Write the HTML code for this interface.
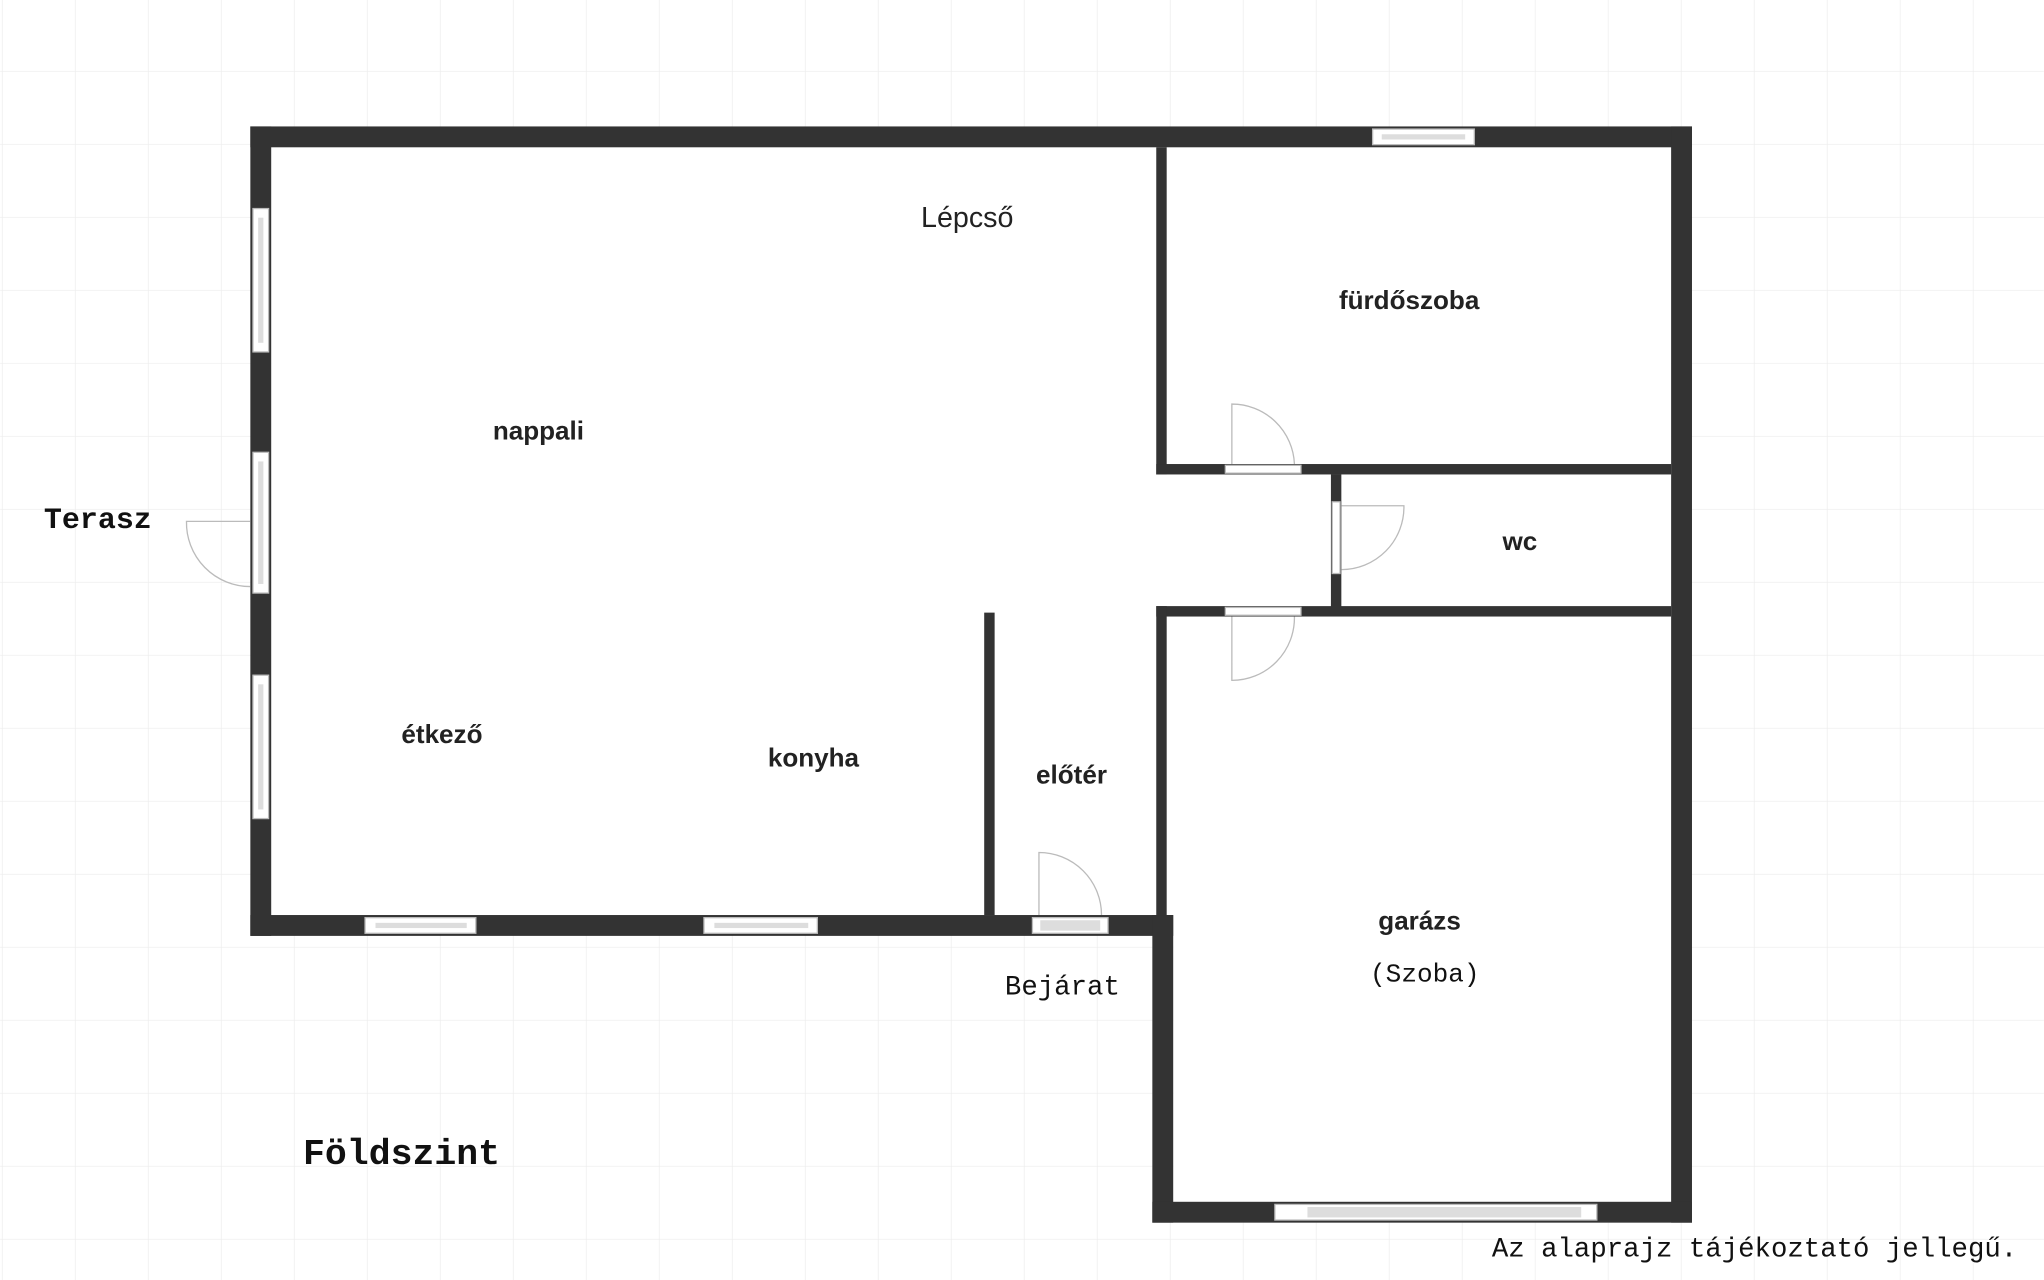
<!DOCTYPE html>
<html><head><meta charset="utf-8">
<style>
html,body{margin:0;padding:0;background:#fff;}
svg{display:block;}
.r{font-family:"Liberation Sans",sans-serif;font-size:20px;fill:#222;text-anchor:middle;}
.b{font-weight:bold;}
.m{font-family:"Liberation Mono",monospace;font-size:21px;fill:#111;text-anchor:middle;}
</style></head><body>
<svg width="2044" height="1280" viewBox="0 0 1568 982" xmlns="http://www.w3.org/2000/svg">
<defs>
<pattern id="g" width="56" height="56" patternUnits="userSpaceOnUse" x="2" y="-1">
<path d="M56 0V56M0 56H56" fill="none" stroke="#ececec" stroke-width="1"/>
</pattern>
</defs>
<rect width="1568" height="982" fill="#fff"/>
<rect width="1568" height="982" fill="url(#g)"/>
<rect x="208" y="113" width="1074" height="589" fill="#fff"/>
<rect x="900" y="473" width="382" height="449" fill="#fff"/>
<g fill="#333">
<rect x="192" y="97" width="1106" height="16"/>
<rect x="192" y="97" width="16" height="621"/>
<rect x="192" y="702" width="708" height="16"/>
<rect x="1282" y="97" width="16" height="841"/>
<rect x="884" y="702" width="16" height="236"/>
<rect x="884" y="922" width="414" height="16"/>
<rect x="755" y="470" width="8" height="232"/>
<rect x="887" y="113" width="8" height="251"/>
<rect x="887" y="356" width="395" height="8"/>
<rect x="1021" y="364" width="8" height="106"/>
<rect x="887" y="465" width="395" height="8"/>
<rect x="887" y="465" width="8" height="237"/>
</g>
<g fill="#fff" stroke="#bbb" stroke-width="1">
<rect x="1053" y="99" width="78" height="12"/>
<rect x="194" y="160" width="12" height="110"/>
<rect x="194" y="347" width="12" height="108"/>
<rect x="194" y="518" width="12" height="110"/>
<rect x="280" y="704" width="85" height="12"/>
<rect x="540" y="704" width="87" height="12"/>
<rect x="792" y="704" width="58" height="12"/>
<rect x="940" y="357" width="58" height="6"/>
<rect x="1022" y="385" width="6" height="55"/>
<rect x="940" y="466" width="58" height="6"/>
<rect x="978" y="924" width="247" height="12"/>
</g>
<g fill="#ddd">
<rect x="1060" y="103" width="64" height="4"/>
<rect x="198" y="167" width="4" height="96"/>
<rect x="198" y="354" width="4" height="94"/>
<rect x="198" y="525" width="4" height="96"/>
<rect x="288" y="708" width="70" height="4"/>
<rect x="548" y="708" width="72" height="4"/>
<rect x="798" y="706" width="46" height="8"/>
<rect x="1003" y="926" width="210" height="8"/>
</g>
<g fill="none" stroke="#bbb" stroke-width="1">
<path d="M192 400H143A49 49 0 0 0 192 450"/>
<path d="M797 702V654A48 48 0 0 1 845 702"/>
<path d="M945 356V310A48 48 0 0 1 993 356"/>
<path d="M1029 388H1077A48 48 0 0 1 1029 437"/>
<path d="M945 473V522A48 48 0 0 0 993 473"/>
</g>
<text class="r" x="742" y="174" style="font-size:22px">Lépcső</text>
<text class="r b" x="1081" y="237">fürdőszoba</text>
<text class="r b" x="413" y="337">nappali</text>
<text class="r b" x="1166" y="422">wc</text>
<text class="r b" x="339" y="570">étkező</text>
<text class="r b" x="624" y="588">konyha</text>
<text class="r b" x="822" y="601">előtér</text>
<text class="r b" x="1089" y="713">garázs</text>
<text class="m" x="1093" y="753" style="font-size:20px">(Szoba)</text>
<text class="m" x="815" y="763">Bejárat</text>
<text class="m b" x="75" y="405" style="font-size:23px">Terasz</text>
<text class="m b" x="308" y="893" style="font-size:28px">Földszint</text>
<text class="m" x="1346" y="964" style="font-size:21px">Az alaprajz tájékoztató jellegű.</text>
</svg>
</body></html>
